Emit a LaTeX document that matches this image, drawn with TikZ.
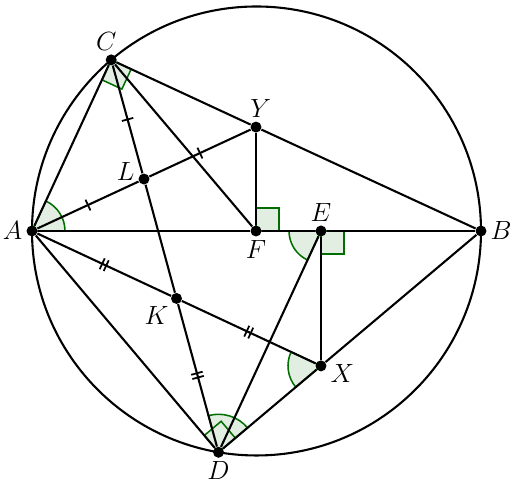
\documentclass[tikz,border=0pt]{standalone}
\usepackage{amsmath}
\usetikzlibrary{backgrounds,calc,decorations.markings}
\definecolor{angfill}{RGB}{226,238,226}
\definecolor{angline}{RGB}{0,110,0}
\tikzstyle{pt}=[
	circle,
	fill=black,
	inner sep=0pt,
	minimum size=5pt]
\tikzstyle{seg}=[
	line width=0.95pt]
\tikzstyle{onetick}=[
	postaction={decorate},
	decoration={markings,
		mark=at position .5 with {\draw[line width=0.8pt] (0,-2.7pt) -- (0,2.7pt);}}]
\tikzstyle{twotick}=[
	postaction={decorate},
	decoration={markings,
		mark=at position .5 with {\draw[line width=0.8pt] (-1pt,-2.7pt) -- (-1pt,2.7pt) (1pt,-2.7pt) -- (1pt,2.7pt);}}]
\tikzstyle{angmark}=[
	fill=angfill,
	draw=angline,
	line width=0.7pt]

\begin{document}
\begin{tikzpicture}[x=0.016cm,y=0.016cm,
	every label/.style={font=\fontsize{13}{15}\selectfont,inner sep=1.5pt}]
	\useasboundingbox (0,0) rectangle (511,486);
	% points
	\node[pt,label=below:$F$]	(F)	at (256,255)	{};
	\node[pt,label=left:$A$]	(A)	at (32,255)	{};
	\node[pt,label=right:$B$]	(B)	at (481,255)	{};
	\node[pt,label={[xshift=-2.2pt]above:$C$}]	(C)	at (111.2,426.1)	{};
	\node[pt,label=below:$D$]	(D)	at (218.5,33.7)	{};
	\node[pt,label={[xshift=2.2pt]above:$Y$}]	(Y)	at (256,358.9)	{};
	\node[pt,label=above:$E$]	(E)	at (321,255)	{};
	\node[pt,label={[yshift=-3.5pt]right:$X$}]	(X)	at (321,120.1)	{};
	\node[pt,label={[yshift=3.5pt]left:$L$}]	(L)	at ($(A)!.5!(Y)$)	{};
	\node[pt,label=below left:$K$]	(K)	at ($(A)!.5!(X)$)	{};
	% angle marks
	\begin{scope}[on background layer]
	\filldraw[angmark] (A.center) -- ++(0:33) arc[start angle=0,end angle=65.16,radius=33] -- cycle;
	\filldraw[angmark] (E.center) -- ++(180:32) arc[start angle=180,end angle=245.15,radius=32] -- cycle;
	\filldraw[angmark] (X.center) -- ++(154.98:33) arc[start angle=154.98,end angle=220.13,radius=33] -- cycle;
	\filldraw[angmark] (D.center) -- ++(40.13:38) arc[start angle=40.13,end angle=105.29,radius=38] -- cycle;
	\filldraw[angmark] (D.center) -- ++(40.13:22) -- ++(130.13:22) -- ++(220.13:22) -- cycle;
	\filldraw[angmark] (C.center) -- ++(245.16:22) -- ++(335.16:22) -- ++(65.16:22) -- cycle;
	\filldraw[angmark] (F.center) -- ++(0:23) -- ++(90:23) -- ++(180:23) -- cycle;
	\filldraw[angmark] (E.center) -- ++(0:23) -- ++(270:23) -- ++(180:23) -- cycle;
	\end{scope}
	% circle and segments
	\draw[seg] (256.5,255) circle[radius=224.5];
	\draw[seg] (A) -- (F) -- (E) -- (B);
	\draw[seg] (A) -- (C);
	\draw[seg] (C) -- (Y) -- (B);
	\draw[seg] (A) -- (D);
	\draw[seg] (D) -- (X) -- (B);
	\draw[seg] (C) -- (F);
	\draw[seg] (Y) -- (F);
	\draw[seg] (E) -- (X);
	\draw[seg] (D) -- (E);
	\draw[seg,onetick] (C) -- (L);
	\draw[seg] (L) -- (K);
	\draw[seg,twotick] (K) -- (D);
	\draw[seg,onetick] (A) -- (L);
	\draw[seg,onetick] (L) -- (Y);
	\draw[seg,twotick] (A) -- (K);
	\draw[seg,twotick] (K) -- (X);
\end{tikzpicture}
\end{document}
